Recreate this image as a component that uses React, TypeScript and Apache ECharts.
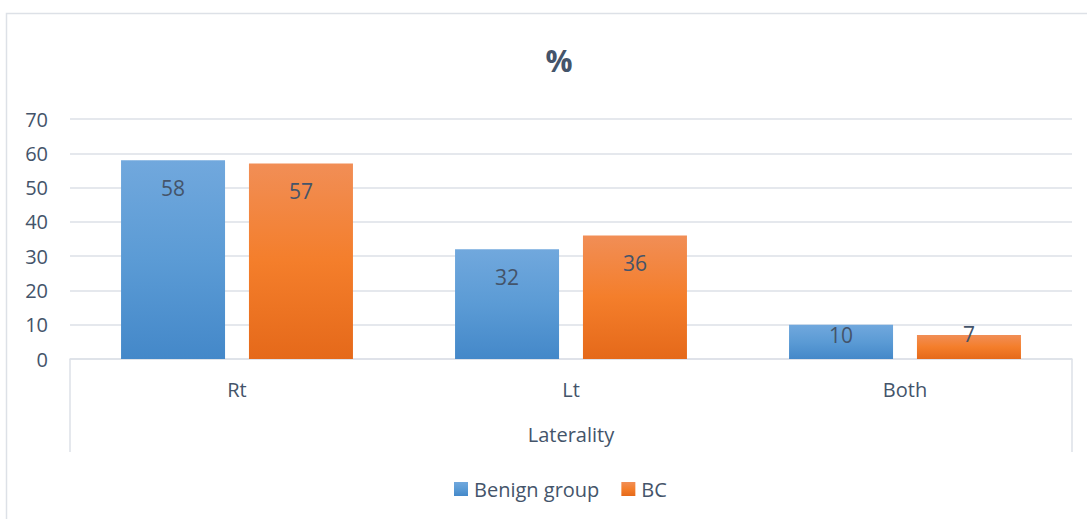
import React, { useEffect, useRef } from "react";
import * as echarts from "echarts";

// Laterality breakdown (%) for the two study groups
const categories = ["Rt", "Lt", "Both"];
const benignValues = [58, 32, 10];
const bcValues = [57, 36, 7];
const seriesNames = ["Benign group", "BC"];
const axisTitle = "Laterality";
const chartTitle = "%";

const TEXT = "#44546a";
const GRID = "#dde1e7";
const FONT = "'Open Sans', 'Noto Sans', sans-serif";

const blueFill = new echarts.graphic.LinearGradient(0, 0, 0, 1, [
  { offset: 0, color: "#71a8dd" },
  { offset: 0.5, color: "#5b9bd5" },
  { offset: 1, color: "#4488c9" },
]);
const orangeFill = new echarts.graphic.LinearGradient(0, 0, 0, 1, [
  { offset: 0, color: "#f18e56" },
  { offset: 0.5, color: "#f47e2b" },
  { offset: 1, color: "#e5691a" },
]);

// Labels sit inside the bar end; short bars push them up to the top edge.
function labelFor(v: number) {
  if (v >= 15) return { position: "insideTop", distance: 17 };
  if (v >= 9) return { position: "insideTop", distance: 0 };
  return { position: "top", distance: -9 };
}

function toData(values: number[]) {
  return values.map((v) => ({ value: v, label: labelFor(v) }));
}

export default function App() {
  const ref = useRef<HTMLDivElement>(null);

  useEffect(() => {
    if (!ref.current) return;
    const chart = echarts.init(ref.current, undefined, { renderer: "svg" });
    const labelStyle = {
      show: true,
      color: TEXT,
      fontSize: 21,
      fontFamily: FONT,
    };
    chart.setOption({
      animation: false,
      backgroundColor: "#ffffff",
      title: {
        text: chartTitle,
        left: 554,
        textAlign: "center",
        top: 40,
        textStyle: {
          color: TEXT,
          fontSize: 30,
          fontWeight: "bold",
          fontFamily: FONT,
        },
      },
      graphic: [
        {
          type: "rect",
          silent: true,
          shape: { x: 6.5, y: 13.5, width: 1100, height: 530 },
          style: { fill: "none", stroke: GRID, lineWidth: 1.5 },
        },
      ],
      legend: {
        data: seriesNames,
        left: 449,
        top: 474,
        itemWidth: 14,
        itemHeight: 14,
        itemGap: 22,
        icon: "rect",
        textStyle: {
          color: TEXT,
          fontSize: 20,
          fontFamily: FONT,
          padding: [0, 0, 0, 1],
        },
      },
      grid: { left: 70, right: 15, top: 119, bottom: 160 },
      xAxis: [
        {
          type: "category",
          data: categories,
          axisLine: { show: true, lineStyle: { color: GRID, width: 1.5 } },
          axisTick: { show: false },
          axisLabel: {
            color: TEXT,
            fontSize: 20,
            fontFamily: FONT,
            margin: 20,
          },
        },
        {
          type: "category",
          data: [axisTitle],
          position: "bottom",
          axisLine: { show: false },
          axisTick: {
            show: true,
            length: 93,
            lineStyle: { color: GRID, width: 1.5 },
          },
          axisLabel: {
            color: TEXT,
            fontSize: 20,
            fontFamily: FONT,
            margin: 65,
          },
        },
      ],
      yAxis: {
        type: "value",
        min: 0,
        max: 70,
        interval: 10,
        axisLine: { show: false },
        axisTick: { show: false },
        axisLabel: {
          color: TEXT,
          fontSize: 20,
          fontFamily: FONT,
          margin: 22,
        },
        splitLine: { lineStyle: { color: GRID, width: 1.5 } },
      },
      series: [
        {
          name: seriesNames[0],
          type: "bar",
          xAxisIndex: 0,
          data: toData(benignValues),
          barWidth: 104,
          barGap: "23%",
          itemStyle: { color: blueFill },
          label: labelStyle,
        },
        {
          name: seriesNames[1],
          type: "bar",
          xAxisIndex: 0,
          data: toData(bcValues),
          barWidth: 104,
          barGap: "23%",
          itemStyle: { color: orangeFill },
          label: labelStyle,
        },
      ],
    });
    return () => chart.dispose();
  }, []);

  return (
    <div
      ref={ref}
      style={{ position: "fixed", left: 0, top: 0, width: 1087, height: 519 }}
    />
  );
}
